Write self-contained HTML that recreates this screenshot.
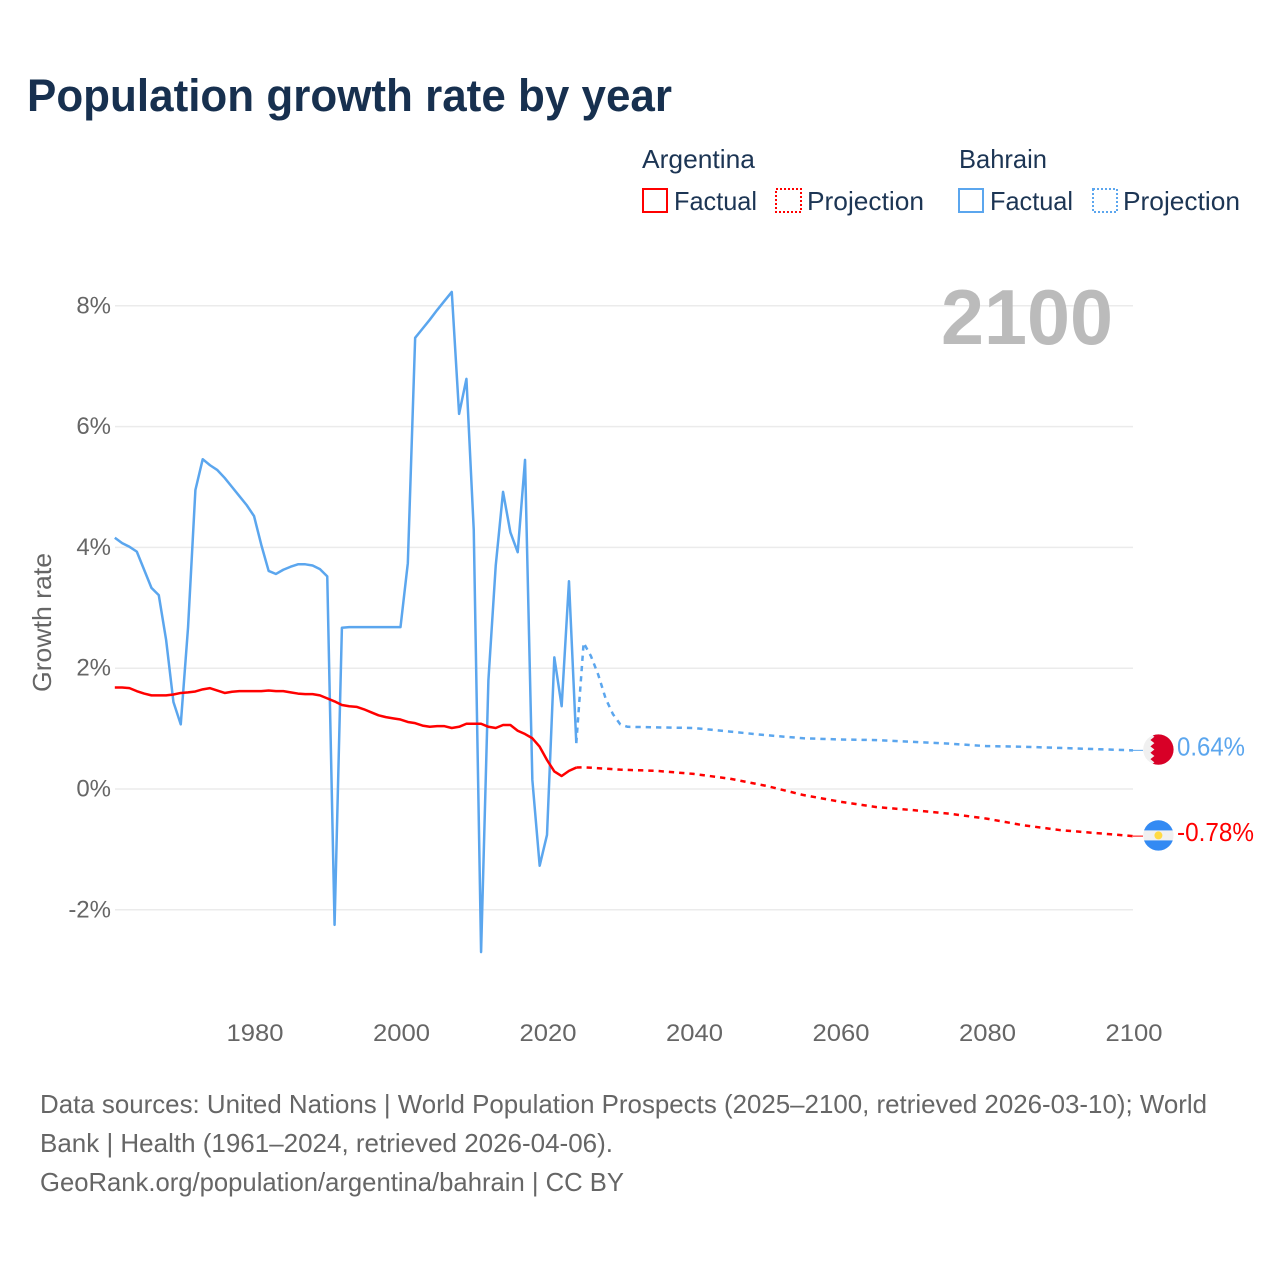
<!DOCTYPE html>
<html lang="en">
<head>
<meta charset="utf-8">
<title>Population growth rate by year</title>
<style>
html,body{margin:0;padding:0;background:#fff;width:1280px;height:1280px;overflow:hidden}
svg{display:block}
text{font-family:"Liberation Sans",sans-serif}
</style>
</head>
<body>
<svg id="chart" xmlns="http://www.w3.org/2000/svg" width="1280" height="1280" viewBox="0 0 1280 1280">
  <rect width="1280" height="1280" fill="#fff"/>
  <text x="27" y="111" font-size="45" font-weight="700" fill="#17304f" textLength="645" lengthAdjust="spacingAndGlyphs">Population growth rate by year</text>

  <g font-size="26" fill="#1c3554">
    <text x="642" y="168" textLength="113" lengthAdjust="spacingAndGlyphs">Argentina</text>
    <text x="959" y="168" textLength="88" lengthAdjust="spacingAndGlyphs">Bahrain</text>
    <rect x="643" y="189" width="24" height="23" fill="none" stroke="#ff0000" stroke-width="2"/>
    <text x="674" y="210" textLength="83" lengthAdjust="spacingAndGlyphs">Factual</text>
    <rect x="776" y="189" width="25" height="23" fill="none" stroke="#ff0000" stroke-width="2" stroke-dasharray="2 2"/>
    <text x="807" y="210" textLength="117" lengthAdjust="spacingAndGlyphs">Projection</text>
    <rect x="959" y="189" width="24" height="23" fill="none" stroke="#5ba6ee" stroke-width="2"/>
    <text x="990" y="210" textLength="83" lengthAdjust="spacingAndGlyphs">Factual</text>
    <rect x="1093" y="189" width="24" height="23" fill="none" stroke="#5ba6ee" stroke-width="2" stroke-dasharray="2 2"/>
    <text x="1123" y="210" textLength="117" lengthAdjust="spacingAndGlyphs">Projection</text>
  </g>

  <g id="grid"></g>
  <g id="yticks"></g>
  <g id="xticks"></g>
  <text transform="translate(51 692) rotate(-90)" font-size="26" fill="#666666" textLength="139" lengthAdjust="spacingAndGlyphs">Growth rate</text>
  <text x="941" y="344" font-size="78" font-weight="700" fill="#bbbbbb" textLength="172" lengthAdjust="spacingAndGlyphs">2100</text>

  <g id="series"></g>

  <defs>
    <clipPath id="flag-clip"><circle cx="0" cy="0" r="15.2"/></clipPath>
  </defs>
  <g id="flag-bahrain">
    <g clip-path="url(#flag-clip)">
      <rect x="-16" y="-16" width="32" height="32" fill="#f0f0f0"/>
      <polygon points="-8,-16 16,-16 16,16 -8,16 -4,12.8 -8,9.6 -4,6.4 -8,3.2 -4,0 -8,-3.2 -4,-6.4 -8,-9.6 -4,-12.8" fill="#d80027"/>
    </g>
  </g>
  <g id="flag-argentina">
    <g clip-path="url(#flag-clip)">
      <rect x="-16" y="-16" width="32" height="32" fill="#f0f0f0"/>
      <rect x="-16" y="-16" width="32" height="11" fill="#338af3"/>
      <rect x="-16" y="5" width="32" height="11" fill="#338af3"/>
      <circle cx="0" cy="0" r="4" fill="#ffda44"/>
    </g>
  </g>
  <text id="label-bahrain" x="1177" font-size="26" fill="#5ba6ee" textLength="68" lengthAdjust="spacingAndGlyphs"></text>
  <text id="label-argentina" x="1177" font-size="26" fill="#ff0000" textLength="77" lengthAdjust="spacingAndGlyphs"></text>

  <g font-size="26" fill="#666666">
    <text x="40" y="1113" textLength="1167" lengthAdjust="spacingAndGlyphs">Data sources: United Nations | World Population Prospects (2025–2100, retrieved 2026-03-10); World</text>
    <text x="40" y="1152" textLength="573" lengthAdjust="spacingAndGlyphs">Bank | Health (1961–2024, retrieved 2026-04-06).</text>
    <text x="40" y="1191" textLength="584" lengthAdjust="spacingAndGlyphs">GeoRank.org/population/argentina/bahrain | CC BY</text>
  </g>
</svg>
<script>
const factualYears = [1961,1962,1963,1964,1965,1966,1967,1968,1969,1970,1971,1972,1973,1974,1975,1976,1977,1978,1979,1980,1981,1982,1983,1984,1985,1986,1987,1988,1989,1990,1991,1992,1993,1994,1995,1996,1997,1998,1999,2000,2001,2002,2003,2004,2005,2006,2007,2008,2009,2010,2011,2012,2013,2014,2015,2016,2017,2018,2019,2020,2021,2022,2023,2024];
const bahrainFactual = [4.16,4.07,4.01,3.93,3.63,3.33,3.21,2.47,1.44,1.07,2.68,4.95,5.46,5.36,5.28,5.15,5.0,4.85,4.7,4.52,4.04,3.61,3.56,3.63,3.68,3.72,3.72,3.7,3.64,3.52,-2.25,2.67,2.68,2.68,2.68,2.68,2.68,2.68,2.68,2.68,3.74,7.47,7.62,7.77,7.93,8.08,8.23,6.21,6.79,4.29,-2.7,1.8,3.7,4.92,4.25,3.92,5.45,0.15,-1.27,-0.76,2.18,1.37,3.44,0.76];
const argentinaFactual = [1.68,1.68,1.67,1.62,1.58,1.55,1.55,1.55,1.565,1.59,1.6,1.615,1.65,1.67,1.63,1.59,1.61,1.62,1.62,1.62,1.62,1.63,1.62,1.62,1.6,1.58,1.57,1.57,1.55,1.5,1.45,1.39,1.37,1.36,1.32,1.27,1.22,1.19,1.17,1.15,1.11,1.09,1.05,1.03,1.04,1.04,1.01,1.03,1.08,1.08,1.08,1.03,1.01,1.06,1.06,0.965,0.91,0.84,0.7,0.48,0.29,0.215,0.3,0.355];
const bahrainProjectionYears = [2024,2025,2026,2027,2028,2029,2030,2031,2035,2040,2045,2050,2055,2060,2065,2070,2075,2080,2085,2090,2095,2100];
const bahrainProjection = [0.76,2.42,2.2,1.89,1.5,1.24,1.07,1.03,1.02,1.01,0.95,0.89,0.84,0.82,0.81,0.78,0.75,0.71,0.7,0.68,0.66,0.64];
const argentinaProjectionYears = [2024,2025,2030,2035,2040,2045,2050,2055,2060,2065,2070,2075,2080,2085,2090,2095,2100];
const argentinaProjection = [0.355,0.36,0.32,0.3,0.25,0.17,0.05,-0.1,-0.21,-0.3,-0.35,-0.41,-0.49,-0.6,-0.68,-0.73,-0.78];
const xTickYears = [1980,2000,2020,2040,2060,2080,2100];
const yTickValues = [-2,0,2,4,6,8];
const yTickLabels = ["-2%","0%","2%","4%","6%","8%"];
const endValueLabels = {bahrain:"0.64%",argentina:"-0.78%"};

const SVGNS = "http://www.w3.org/2000/svg";
function xScale(year){ return 254 + (year - 1980) * 7.325; }
function yScale(v){ return 789 - v * 60.4; }
function make(tag, parent){
  const el = document.createElementNS(SVGNS, tag);
  parent.appendChild(el);
  return el;
}
function pointsOf(years, values){
  return years.map(function(yr, i){ return xScale(yr).toFixed(2) + "," + yScale(values[i]).toFixed(2); }).join(" ");
}
const gridG = document.getElementById("grid");
const yG = document.getElementById("yticks");
yTickValues.forEach(function(v, i){
  const ln = make("line", gridG);
  
  
  ln.setAttribute("x1", 115);
  ln.setAttribute("x2", 1133);
  ln.setAttribute("y1", yScale(v));
  ln.setAttribute("y2", yScale(v));
  ln.setAttribute("stroke", "#ebebeb");
  ln.setAttribute("stroke-width", "1.5");
  const t = make("text", yG);
  
  
  t.setAttribute("x", 111);
  t.setAttribute("y", yScale(v) + 7.5);
  t.setAttribute("text-anchor", "end");
  t.setAttribute("font-size", "24");
  t.setAttribute("fill", "#666666");
  t.textContent = yTickLabels[i];
});
const xG = document.getElementById("xticks");
xTickYears.forEach(function(yr){
  const t = make("text", xG);
  
  
  t.setAttribute("x", xScale(yr) + 1);
  t.setAttribute("y", 1041);
  t.setAttribute("text-anchor", "middle");
  t.setAttribute("font-size", "24");
  t.setAttribute("fill", "#666666");
  t.setAttribute("textLength", "57");
  t.setAttribute("lengthAdjust", "spacingAndGlyphs");
  t.textContent = String(yr);
});
const seriesG = document.getElementById("series");
function styleLine(el, color, dash){
  el.setAttribute("fill", "none");
  el.setAttribute("stroke", color);
  el.setAttribute("stroke-width", "2.5");
  el.setAttribute("stroke-linejoin", "round");
  if (dash) el.setAttribute("stroke-dasharray", dash);
}
const bahrainLine = make("polyline", seriesG);


bahrainLine.setAttribute("points", pointsOf(factualYears, bahrainFactual));
styleLine(bahrainLine, "#5ba6ee");
const bahrainProj = make("polyline", seriesG);


bahrainProj.setAttribute("points", pointsOf(bahrainProjectionYears, bahrainProjection));
styleLine(bahrainProj, "#5ba6ee", "5.3 5");
const argentinaLine = make("polyline", seriesG);


argentinaLine.setAttribute("points", pointsOf(factualYears, argentinaFactual));
styleLine(argentinaLine, "#ff0000");
const argentinaProj = make("polyline", seriesG);


argentinaProj.setAttribute("points", pointsOf(argentinaProjectionYears, argentinaProjection));
styleLine(argentinaProj, "#ff0000", "5.3 5");

const bahrainEnd = yScale(bahrainProjection[bahrainProjection.length - 1]);
const argentinaEnd = yScale(argentinaProjection[argentinaProjection.length - 1]);
const bahrainLeader = make("line", seriesG);


bahrainLeader.setAttribute("x1", xScale(2100));
bahrainLeader.setAttribute("x2", 1143);
bahrainLeader.setAttribute("y1", bahrainEnd);
bahrainLeader.setAttribute("y2", bahrainEnd);
bahrainLeader.setAttribute("stroke", "#5ba6ee");
const argentinaLeader = make("line", seriesG);


argentinaLeader.setAttribute("x1", xScale(2100));
argentinaLeader.setAttribute("x2", 1143);
argentinaLeader.setAttribute("y1", argentinaEnd);
argentinaLeader.setAttribute("y2", argentinaEnd);
argentinaLeader.setAttribute("stroke", "#ff0000");

document.getElementById("flag-bahrain").setAttribute("transform", "translate(1158.4 " + (bahrainEnd - 0.8) + ")");
document.getElementById("flag-argentina").setAttribute("transform", "translate(1158.4 " + (argentinaEnd - 0.7) + ")");
const lb = document.getElementById("label-bahrain");
lb.setAttribute("y", bahrainEnd + 5);
lb.textContent = endValueLabels.bahrain;
const la = document.getElementById("label-argentina");
la.setAttribute("y", argentinaEnd + 5);
la.textContent = endValueLabels.argentina;
</script>
</body>
</html>
